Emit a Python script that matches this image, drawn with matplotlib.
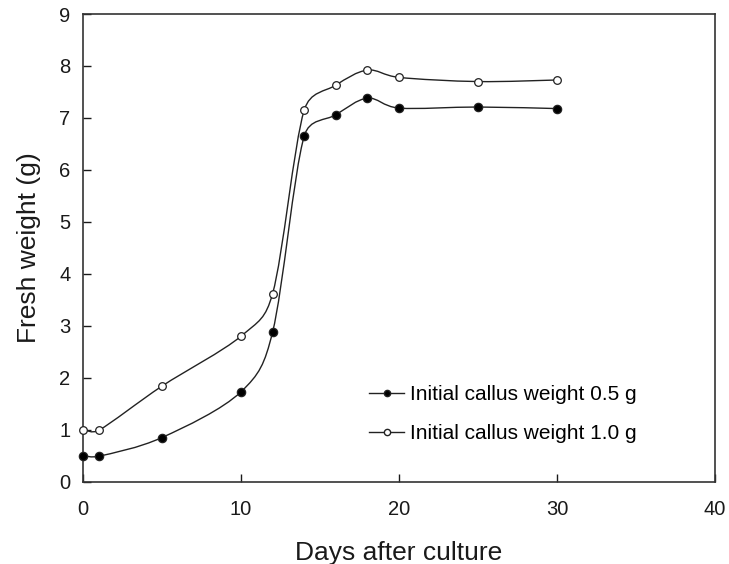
import numpy as np
import matplotlib
matplotlib.use("Agg")
import matplotlib.pyplot as plt
from matplotlib.path import Path
from matplotlib.patches import PathPatch
from matplotlib.lines import Line2D

plt.rcParams['font.family'] = ['Liberation Sans', 'DejaVu Sans']

days = [0, 1, 5, 10, 12, 14, 16, 18, 20, 25, 30]
weight_05 = [0.50, 0.49, 0.85, 1.73, 2.88, 6.65, 7.06, 7.38, 7.19, 7.21, 7.18]
weight_10 = [1.00, 0.99, 1.84, 2.80, 3.62, 7.15, 7.63, 7.92, 7.78, 7.70, 7.73]
labels = ["Initial callus weight 0.5 g", "Initial callus weight 1.0 g"]
xticks = [0, 10, 20, 30, 40]
yticks = list(range(0, 10))

XLIM = (0, 40)
YLIM = (0, 9)


def smooth_path(x, y, sx, sy):
    # Excel-like smoothed Bezier, computed in screen-proportional space
    pts = np.column_stack([np.asarray(x, float) * sx, np.asarray(y, float) * sy])
    n = len(pts)
    verts = [pts[0]]
    codes = [Path.MOVETO]
    for i in range(n - 1):
        p0 = pts[i - 1] if i > 0 else pts[i]
        p1 = pts[i]
        p2 = pts[i + 1]
        p3 = pts[i + 2] if i + 2 < n else pts[i + 1]
        d12 = np.linalg.norm(p2 - p1)
        d02 = np.linalg.norm(p2 - p0)
        d13 = np.linalg.norm(p3 - p1)
        f1 = min(1 / 6, 0.5 * d12 / d02) if d02 > 0 else 0
        f2 = min(1 / 6, 0.5 * d12 / d13) if d13 > 0 else 0
        c1 = p1 + (p2 - p0) * f1
        c2 = p2 - (p3 - p1) * f2
        verts += [c1, c2, p2]
        codes += [Path.CURVE4] * 3
    verts = np.array(verts)
    verts[:, 0] /= sx
    verts[:, 1] /= sy
    return Path(verts, codes)


fig = plt.figure(figsize=(7.29, 5.64), dpi=100)
ax = fig.add_axes([83 / 729, 1 - 481.7 / 564, (715 - 83) / 729, (481.7 - 14) / 564])

sx = (715 - 83) / (XLIM[1] - XLIM[0])
sy = (481.7 - 14) / (YLIM[1] - YLIM[0])

for yv, face, ms in [(weight_05, 'black', 6), (weight_10, 'white', 5.5)]:
    ax.add_patch(PathPatch(smooth_path(days, yv, sx, sy), facecolor='none',
                           edgecolor='#222222', lw=1.0, zorder=2))
    ax.plot(days, yv, ls='none', marker='o', ms=ms,
            mfc=face, mec='#222222', mew=0.9, zorder=3, clip_on=False)

ax.set_xlim(*XLIM)
ax.set_ylim(*YLIM)
ax.set_xticks(xticks)
ax.set_yticks(yticks)
ax.tick_params(direction='in', length=6, width=1, labelsize=14.5, colors='#1a1a1a')
ax.tick_params(axis='y', pad=9)
ax.tick_params(axis='x', pad=13)
for s in ax.spines.values():
    s.set_linewidth(1.2)
    s.set_color('#333333')

ax.set_xlabel("Days after culture", fontsize=19, labelpad=16, color='#1a1a1a')
ax.set_ylabel("Fresh weight (g)", fontsize=19, labelpad=13, color='#1a1a1a')

handles = [
    Line2D([], [], color='#222222', lw=1, marker='o', ms=4.5, mfc='black', mec='#222222'),
    Line2D([], [], color='#222222', lw=1, marker='o', ms=4.5, mfc='white', mec='#222222'),
]
ax.legend(handles, labels, loc='lower left', bbox_to_anchor=(0.44, 0.065),
          frameon=False, fontsize=15, handlelength=1.65, handletextpad=0.3,
          labelspacing=0.95, borderaxespad=0)

fig.savefig("out.png", dpi=100)
